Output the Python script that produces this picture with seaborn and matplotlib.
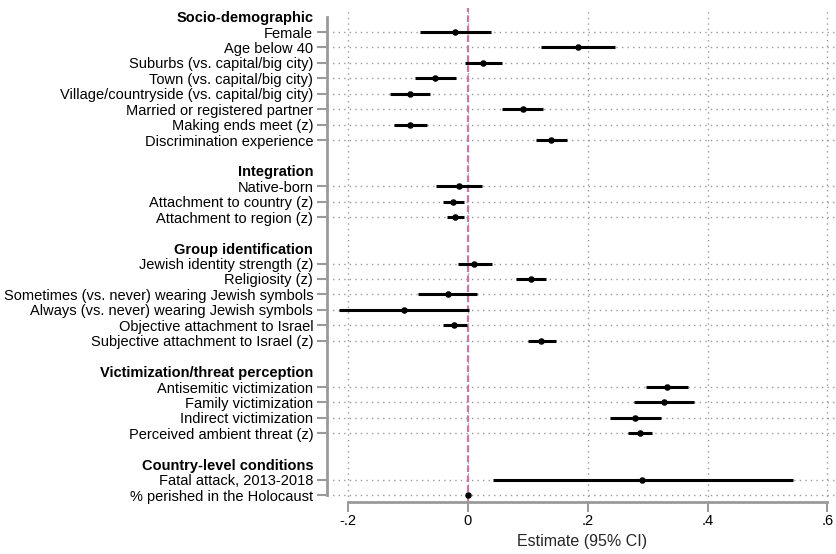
import matplotlib
matplotlib.use("Agg")
import matplotlib.pyplot as plt
import numpy as np
import pandas as pd
import seaborn as sns

# groups and their items (top to bottom)
groups = ['Socio-demographic', 'Integration', 'Group identification',
          'Victimization/threat perception', 'Country-level conditions']
items = [
    ['Female', 'Age below 40', 'Suburbs (vs. capital/big city)',
     'Town (vs. capital/big city)', 'Village/countryside (vs. capital/big city)',
     'Married or registered partner', 'Making ends meet (z)',
     'Discrimination experience'],
    ['Native-born', 'Attachment to country (z)', 'Attachment to region (z)'],
    ['Jewish identity strength (z)', 'Religiosity (z)',
     'Sometimes (vs. never) wearing Jewish symbols',
     'Always (vs. never) wearing Jewish symbols',
     'Objective attachment to Israel', 'Subjective attachment to Israel (z)'],
    ['Antisemitic victimization', 'Family victimization',
     'Indirect victimization', 'Perceived ambient threat (z)'],
    ['Fatal attack, 2013-2018', '% perished in the Holocaust'],
]
estimate = [-0.021, 0.184, 0.026, -0.054, -0.096, 0.092, -0.096, 0.139,
            -0.015, -0.024, -0.021,
            0.011, 0.105, -0.033, -0.106, -0.022, 0.123,
            0.332, 0.327, 0.279, 0.287,
            0.291, 0.0003]
ci_low = [-0.080, 0.122, -0.005, -0.088, -0.130, 0.057, -0.123, 0.114,
          -0.053, -0.041, -0.035,
          -0.016, 0.081, -0.083, -0.215, -0.041, 0.100,
          0.297, 0.277, 0.237, 0.267,
          0.042, -0.0005]
ci_high = [0.039, 0.246, 0.057, -0.020, -0.062, 0.125, -0.068, 0.166,
           0.024, -0.006, -0.006,
           0.041, 0.131, 0.015, 0.002, -0.001, 0.148,
           0.367, 0.377, 0.323, 0.308,
           0.542, 0.0011]
xticks = [-0.2, 0, 0.2, 0.4, 0.6]
xticklabels = ['-.2', '0', '.2', '.4', '.6']

# slot layout: header, items, blank row between groups
tick_pos, tick_lab, is_header, row_pos, row_lab = [], [], [], [], []
slot = 0
for g, its in zip(groups, items):
    tick_pos.append(slot); tick_lab.append(g); is_header.append(True)
    slot += 1
    for it in its:
        tick_pos.append(slot); tick_lab.append(it); is_header.append(False)
        row_pos.append(slot); row_lab.append(it)
        slot += 1
    slot += 1
last = row_pos[-1]

df = pd.DataFrame({'label': row_lab, 'y': row_pos, 'est': estimate,
                   'lo': ci_low, 'hi': ci_high})

sns.set_style('white')
plt.rcParams['font.family'] = ['Liberation Sans', 'DejaVu Sans']

fig = plt.figure(figsize=(8.37, 5.54), dpi=100)
ax = fig.add_axes([0.3907, 0.0939, 0.609, 0.8917])

grey = '#9a9a9a'
ax.axvline(0, color='#c878a8', lw=1.6, ls=(0, (3, 1.5)), zorder=2)
ax.hlines(df['y'], df['lo'], df['hi'], color='black', lw=2.2, zorder=3)
sns.scatterplot(data=df, x='est', y='y', ax=ax, color='black', s=22,
                edgecolor='black', linewidth=0, zorder=4)

ax.set_xlim(-0.2345, 0.6155)
ax.set_ylim(last + 0.45, -0.56)
ax.set_xticks(xticks)
ax.set_xticklabels(xticklabels)
ax.set_yticks(tick_pos)
ax.set_yticklabels(tick_lab)

ax.grid(True, color=grey, ls=(0, (1, 3)), lw=1.0)
ax.set_axisbelow(True)

for s in ['top', 'right']:
    ax.spines[s].set_visible(False)
for s in ['left', 'bottom']:
    ax.spines[s].set_color(grey)
    ax.spines[s].set_linewidth(2)
ax.spines['left'].set_bounds(0, last)
ax.spines['bottom'].set_bounds(-0.2, 0.6)

ax.tick_params(axis='both', colors=grey, length=7, width=1.5,
               labelcolor='black', labelsize=10.5, left=True, bottom=True)
ax.tick_params(axis='x', pad=2)
ax.tick_params(axis='y', pad=3)
ax.set_xlabel('Estimate (95% CI)', fontsize=11.5, labelpad=4)
ax.set_ylabel('')

for t, h in zip(ax.yaxis.get_major_ticks(), is_header):
    if h:
        t.tick1line.set_visible(False)
        t.gridline.set_visible(False)
        t.label1.set_fontweight('bold')

fig.savefig('out.png', dpi=100)
